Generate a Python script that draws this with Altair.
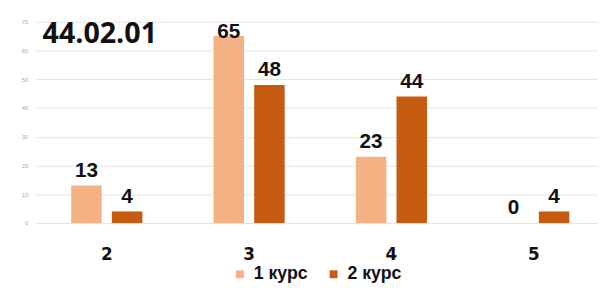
import altair as alt
import pandas as pd

categories = ["2", "3", "4", "5"]
series = ["1 курс", "2 курс"]
course1 = [13, 65, 23, 0]
course2 = [4, 48, 44, 4]
colors = ["#F4B183", "#C55A11"]
title_text = "44.02.01"
y_ticks = [0, 10, 20, 30, 40, 50, 60, 70]

rows = []
for c, a, b in zip(categories, course1, course2):
    rows.append({"cat": c, "series": series[0], "value": a})
    rows.append({"cat": c, "series": series[1], "value": b})
df = pd.DataFrame(rows)

x_enc = alt.X(
    "cat:N",
    sort=categories,
    scale=alt.Scale(range=[0, 577], paddingInner=0.5, paddingOuter=0.25),
    axis=alt.Axis(
        title=None, labelAngle=0, domain=False, ticks=False,
        labelFont="DejaVu Sans", labelFontWeight="bold", labelFontSize=17,
        labelColor="#111111", labelPadding=24,
    ),
)
xoff = alt.XOffset("series:N", sort=series, scale=alt.Scale(paddingInner=0.25))
y_enc = alt.Y(
    "value:Q",
    scale=alt.Scale(domain=[0, 70]),
    axis=alt.Axis(
        values=y_ticks, title=None, domain=False, ticks=False,
        labelFontSize=6, labelColor="#aaaaaa", gridColor="#e4e4e4",
        labelPadding=8,
    ),
)

bars = alt.Chart(df).mark_bar().encode(
    x=x_enc,
    xOffset=xoff,
    y=y_enc,
    color=alt.Color(
        "series:N", sort=series,
        scale=alt.Scale(domain=series, range=colors),
        legend=alt.Legend(
            title=None, orient="none", direction="horizontal",
            legendX=198, legendY=247, symbolType="square", symbolSize=64,
            symbolStrokeWidth=0,
            labelFont="Liberation Sans", labelFontWeight="bold", labelFontSize=18,
            labelColor="#111111", columnPadding=17, symbolOffset=0, labelOffset=5,
        ),
    ),
)

text_base = alt.Chart(df).encode(
    x=x_enc, xOffset=xoff, y=y_enc, text=alt.Text("value:Q")
)
labels_low = text_base.transform_filter("datum.value <= 60").mark_text(
    baseline="alphabetic", dy=-9, font="Liberation Sans", fontWeight="bold",
    fontSize=21, color="#111111",
)
labels_high = text_base.transform_filter("datum.value > 60").mark_text(
    baseline="alphabetic", dy=2, font="Liberation Sans", fontWeight="bold",
    fontSize=21, color="#111111",
)

chart = (
    alt.layer(bars, labels_low, labels_high)
    .properties(
        width=570, height=204,
        padding={"left": 28, "top": 12, "right": 0, "bottom": 64},
        autosize=alt.AutoSizeParams(type="none"),
        background="white",
        title=alt.TitleParams(
            title_text, anchor="start", frame="group", font="Open Sans",
            fontSize=29, fontWeight="bold", color="#111111",
            baseline="alphabetic", offset=0, dx=7, dy=54,
        ),
    )
    .configure_view(stroke=None)
)

chart.save("out.html", embed_options={"renderer": "svg", "actions": False})
